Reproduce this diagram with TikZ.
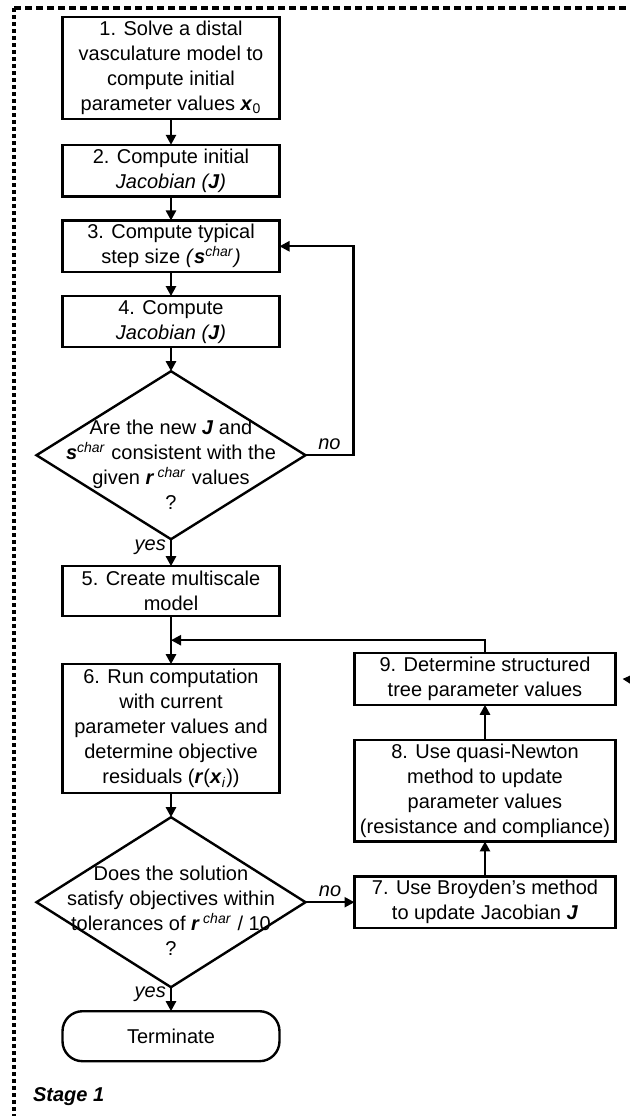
\documentclass[tikz,border=0pt]{standalone}
\usepackage{fontspec}
\setmainfont{Liberation Sans}
\usetikzlibrary{arrows.meta,positioning,shapes.geometric,calc}
\newcommand{\bv}[1]{\textbf{\textit{#1}}}
\newcommand{\chr}{\textsuperscript{\textit{char}}}

\begin{document}
\begin{tikzpicture}[x=0.5pt, y=-0.5pt, node distance=12pt and 24.5pt, >={Triangle[length=5pt,width=5pt]},
  every node/.style={font=\fontsize{10}{12.5}\selectfont},
  box/.style={draw, line width=1.2pt, outer sep=0pt, align=center, inner sep=2pt, minimum width=108.5pt, minimum height=25pt},
  wbox/.style={box, minimum width=130.5pt},
  decision/.style={draw, line width=1.2pt, outer sep=0pt, diamond, inner sep=0pt, minimum width=134.5pt, minimum height=84pt},
  term/.style={box, rounded corners=10pt},
  lbl/.style={font=\fontsize{10}{12}\selectfont\itshape, inner sep=2pt},
  link/.style={->, line width=1.2pt},
  frame/.style={line width=1.6pt}]
  \useasboundingbox (0,0) rectangle (629,1116);
  % stage frame
  \coordinate (ftl) at (14,8);
  \coordinate (ftr) at (650,8);
  \coordinate (fbl) at (14,1130);
  \draw[frame, dash pattern=on 3.5pt off 2pt] (ftl) -- (ftr);
  \draw[frame, dash pattern=on 2pt off 1.5pt] (ftl) -- (fbl);
  % main column
  \node[box, minimum height=50pt] (b1) at (171,68) {1. Solve a distal\\vasculature model to\\compute initial\\parameter values \bv{x}\textsubscript{0}};
  \node[box, below=13pt of b1] (b2) {2. Compute initial\\\textit{Jacobian (\bv{J})}};
  \node[box, below=of b2] (b3) {3. Compute typical\\step size \textit{(}\bv{s}\chr\textit{)}};
  \node[box, below=of b3] (b4) {4. Compute\\\textit{Jacobian (\bv{J})}};
  \node[decision, below=of b4] (q1) {};
  \node[align=center] (q1t) at ([yshift=-5pt]q1.center) {Are the new \bv{J} and\\\bv{s}\chr{} consistent with the\\given \bv{r}\,\chr{} values\\?};
  \node[box, below=13.5pt of q1] (b5) {5. Create multiscale\\model};
  \node[box, below=24pt of b5, minimum height=64.5pt] (b6) {6. Run computation\\with current\\parameter values and\\determine objective\\residuals (\bv{r}(\bv{x}\textsubscript{\textit{i}}))};
  \node[decision, below=of b6, minimum height=85pt] (q2) {};
  \node[align=center] (q2t) at ([yshift=-4.5pt]q2.center) {Does the solution\\satisfy objectives within\\tolerances of \bv{r}\,\chr{} / 10\\?};
  \node[term, below=of q2] (t) {Terminate};
  % right column
  \node[wbox, right=of q2] (b7) {7. Use Broyden’s method\\to update Jacobian \bv{J}};
  \node[wbox, above=17.5pt of b7, minimum height=49pt] (b8) {8. Use quasi-Newton\\method to update\\parameter values\\(resistance and compliance)};
  \node[wbox, above=17.5pt of b8] (b9) {9. Determine structured\\tree parameter values};
  \node[anchor=west, font=\fontsize{10}{12}\selectfont\bfseries\itshape] (stage) at (26,1097) {Stage 1};
  % connectors
  \draw[link] (b1) -- (b2);
  \draw[link] (b2) -- (b3);
  \draw[link] (b3) -- (b4);
  \draw[link] (b4) -- (q1);
  \draw[link] (q1) -- node[lbl, left, pos=0.3] {yes} (b5);
  \coordinate[right=24pt of q1.east] (q1r);
  \draw[link] (q1.east) -- node[lbl, above] {no} (q1r) |- (b3);
  \draw[link] (b5) -- (b6);
  \coordinate (join) at ($(b5.south)!0.5!(b6.north)$);
  \draw[link] (b9.north) |- (join);
  \draw[link] (b6) -- (q2);
  \draw[link] (q2) -- node[lbl, left, pos=0.3] {yes} (t);
  \draw[link] (q2) -- node[lbl, above] {no} (b7);
  \draw[link] (b7) -- (b8);
  \draw[link] (b8) -- (b9);
  \coordinate (offr) at (650,681);
  \coordinate[right=3.5pt of b9.east] (b9r);
  \draw[link] (offr) -- (b9r);
\end{tikzpicture}
\end{document}
